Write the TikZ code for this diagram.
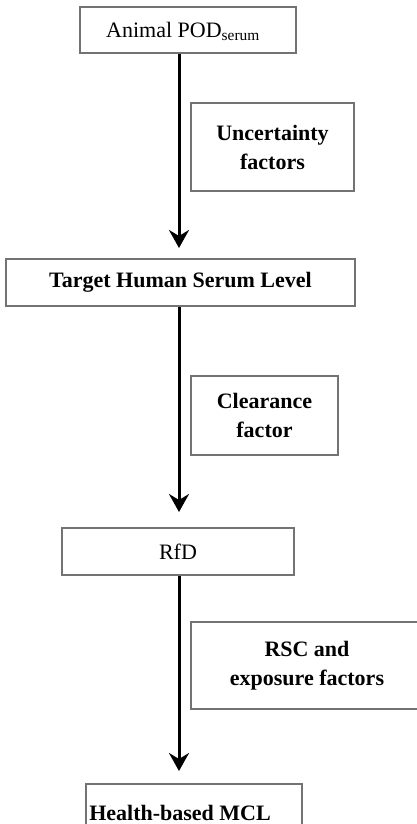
\documentclass[tikz,border=0pt]{standalone}
\usepackage{fontspec}
\setmainfont{Liberation Serif}
\usetikzlibrary{arrows.meta,calc}
\definecolor{boxgray}{RGB}{115,115,115}
\begin{document}
\begin{tikzpicture}[x=1pt,y=-1pt,
  box/.style={draw=boxgray,line width=1.5pt,fill=white,inner sep=0pt,align=center,
    font=\fontsize{22}{29}\selectfont},
  lbl/.style={inner sep=0pt,align=center,font=\fontsize{22}{29}\selectfont},
  arr/.style={line width=3pt,-{Stealth[length=18pt,width=20pt,inset=6pt]}}]
\useasboundingbox (0,0) rectangle (417,824);
% boxes
\node[box,minimum width=216pt,minimum height=46pt] (b1) at (188,30) {};
\node[lbl] (t1) at (183,31) {Animal POD\textsubscript{serum}};
\node[box,minimum width=163pt,minimum height=88pt] (unc) at (272.5,147) {\bfseries Uncertainty\\\bfseries factors};
\node[box,minimum width=349pt,minimum height=47pt] (b2) at (180.5,282.5) {\bfseries Target Human Serum Level};
\node[box,minimum width=147pt,minimum height=79pt] (clr) at (264.5,415.5) {\bfseries Clearance\\\bfseries factor};
\node[box,minimum width=232pt,minimum height=47pt] (rfd) at (178,551.5) {RfD};
\node[box,minimum width=232pt,minimum height=87pt] (rsc) at (307,665.5) {\bfseries RSC and\\\bfseries exposure factors};
\node[box,minimum width=216pt,minimum height=46pt] (mcl) at (194,807) {};
\node[lbl] (t4) at (180,813) {\bfseries Health-based MCL};
% arrow end points
\coordinate (e1) at (179,248);
\coordinate (e2) at (179,512);
\coordinate (e3) at (179,771);
% arrows
\draw[arr] (b1.south -| e1) -- (e1);
\draw[arr] (b2.south -| e2) -- (e2);
\draw[arr] (rfd.south -| e3) -- (e3);
\end{tikzpicture}
\end{document}
